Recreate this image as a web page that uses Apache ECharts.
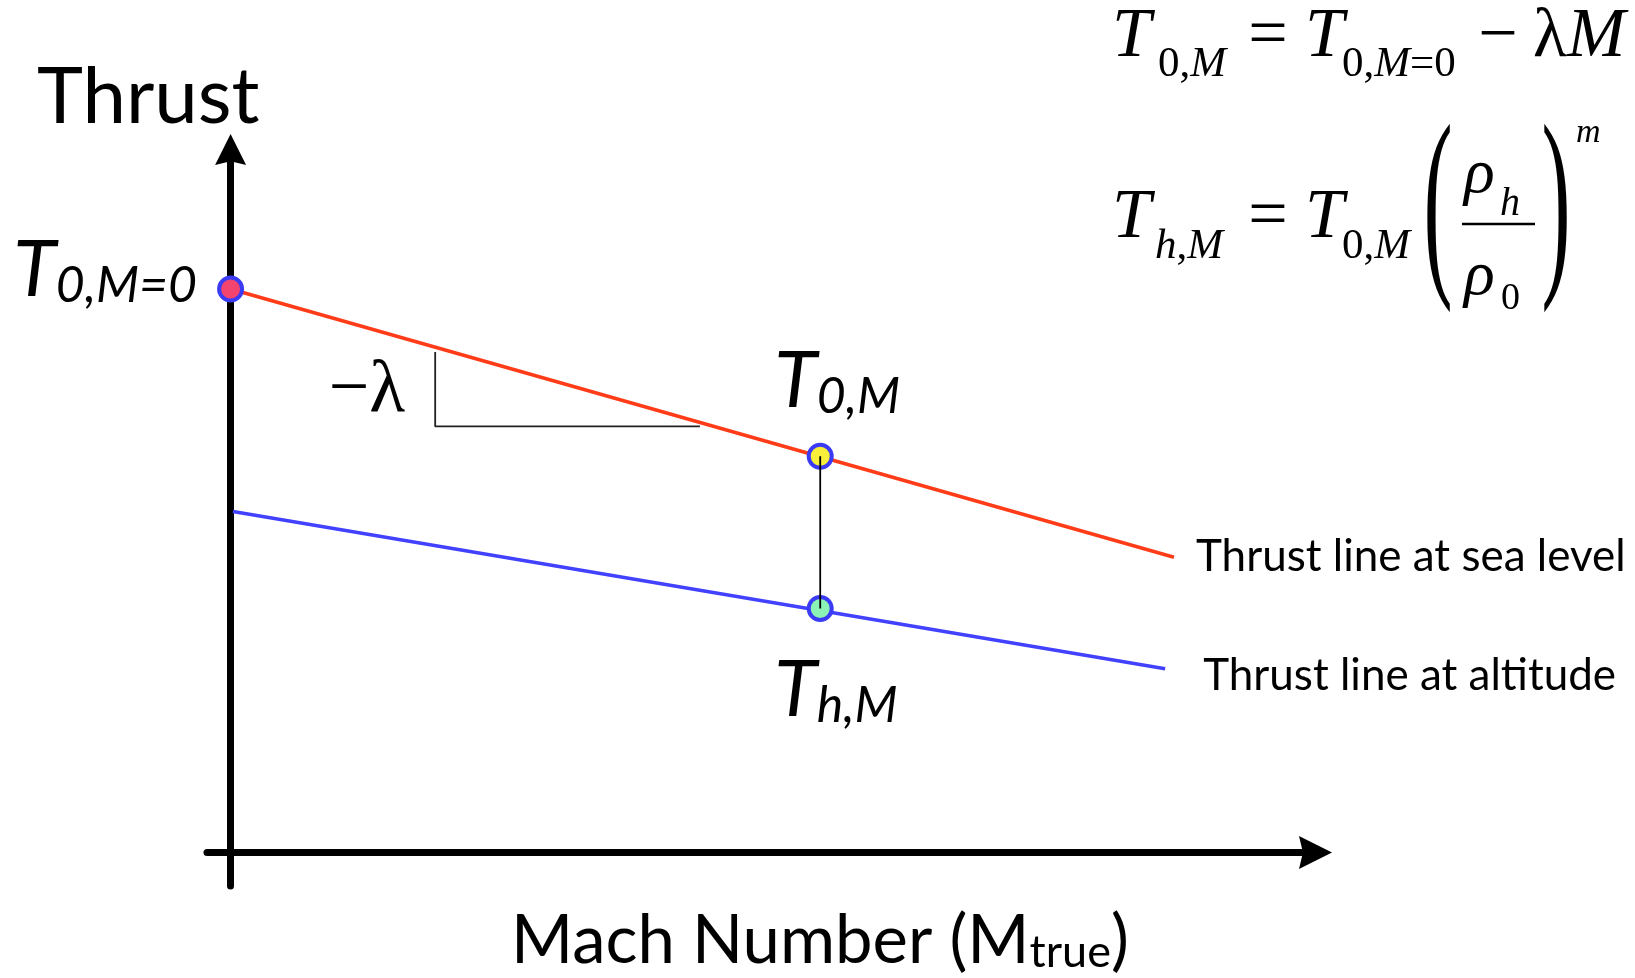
<!DOCTYPE html>
<html>
<head>
<meta charset="utf-8">
<title>Thrust vs Mach number</title>
<script src="https://cdn.jsdelivr.net/npm/echarts@6/dist/echarts.min.js"></script>
<style>
  html, body { margin: 0; padding: 0; background: #ffffff; }
  #chart { width: 1635px; height: 978px; }
</style>
</head>
<body>
<div id="chart"></div>
<script>
// Schematic thrust lapse with Mach number (arbitrary thrust units)
const seaLevelMach = [0, 1.6];
const seaLevelThrust = [100, 52.4];
const altitudeMach = [0.004, 1.585];
const altitudeThrust = [60.5, 32.6];
// slope indicator (rise / run) under the sea-level line
const slopeMach = [0.347, 0.347, 0.796];
const slopeThrust = [88.8, 75.6, 75.6];
// marked points: T0,M=0 ; T0,M ; Th,M
const pointMach = [0, 1, 1];
const pointThrust = [100, 70.3, 43.3];
const pointLabels = [['T', '0,M=0'], ['T', '0,M'], ['T', 'h,M']];
const lineLabels = ['Thrust line at sea level', 'Thrust line at altitude'];

const SANS = 'Lato, "Noto Sans", sans-serif';
const SERIF = '"Liberation Serif", "DejaVu Serif", serif';
const ARROW = 'path://M50,0L100,100L50,88L0,100Z';

const pair = (xs, ys) => xs.map((x, i) => [x, ys[i]]);

const symbolRich = {
  T: { fontFamily: SANS, fontStyle: 'italic', fontSize: 78, lineHeight: 80, color: '#000' },
  s: { fontFamily: SANS, fontStyle: 'italic', fontSize: 50, lineHeight: 50, verticalAlign: 'bottom', color: '#000' }
};
const symLabel = i => `{T|${pointLabels[i][0]}}{s|${pointLabels[i][1]}}`;

const pointFill = ['#f2446f', '#f8ef3a', '#8af3b5'];
const pointLabelCfg = [
  { position: 'left', distance: 20, offset: [0, -18] },
  { position: 'top', distance: 21, align: 'left', offset: [-46, 0] },
  { position: 'bottom', distance: 29, align: 'left', offset: [-46, 0] }
];

const scatterData = pair(pointMach, pointThrust).map((v, i) => ({
  value: v,
  itemStyle: { color: pointFill[i] },
  label: Object.assign({ show: true, formatter: symLabel(i), rich: symbolRich }, pointLabelCfg[i])
}));

// equation text helpers
const serifRich = size => ({
  u: { fontFamily: SERIF, fontSize: size, color: '#000' },
  i: { fontFamily: SERIF, fontStyle: 'italic', fontSize: size, color: '#000' }
});
function eqText(x, y, text, size, opt) {
  opt = opt || {};
  const el = {
    type: 'text', x: x, y: y, silent: true,
    style: {
      text: text, fontFamily: SERIF, fontSize: size,
      fontStyle: opt.italic ? 'italic' : 'normal',
      fill: '#000', align: opt.align || 'left', verticalAlign: 'middle',
      rich: serifRich(size)
    }
  };
  if (opt.scaleX) el.scaleX = opt.scaleX;
  return el;
}

const graphics = [
  // T_{0,M} = T_{0,M=0} − λM
  eqText(1112, 37.4, 'T', 70, { italic: true }),
  eqText(1158, 65, '{u|0,}{i|M}', 43),
  eqText(1268, 37.4, '=', 70, { align: 'center' }),
  eqText(1305, 37.4, 'T', 70, { italic: true }),
  eqText(1342, 65, '{u|0,}{i|M}{u|=0}', 43),
  eqText(1498, 37.4, '−', 70, { align: 'center' }),
  eqText(1533, 37.4, '{u|λ}{i|M}', 70),
  // T_{h,M} = T_{0,M} (ρh / ρ0)^m
  eqText(1112, 218.4, 'T', 70, { italic: true }),
  eqText(1155, 247, '{i|h}{u|,}{i|M}', 43),
  eqText(1268, 218.4, '=', 70, { align: 'center' }),
  eqText(1305, 218.4, 'T', 70, { italic: true }),
  eqText(1342, 247, '{u|0,}{i|M}', 43),
  eqText(1438, 213, '(', 208, { align: 'center', scaleX: 0.42 }),
  eqText(1556, 213, ')', 208, { align: 'center', scaleX: 0.42 }),
  eqText(1464, 175, 'ρ', 64, { italic: true }),
  eqText(1500, 204, 'h', 40, { italic: true }),
  {
    type: 'line', silent: true,
    shape: { x1: 1462, y1: 224, x2: 1535, y2: 224 },
    style: { stroke: '#000', lineWidth: 2.5 }
  },
  eqText(1464, 277, 'ρ', 64, { italic: true }),
  eqText(1501, 299, '0', 38),
  eqText(1576, 133.5, 'm', 34, { italic: true })
];

const option = {
  animation: false,
  backgroundColor: '#ffffff',
  title: [
    {
      text: 'Thrust', left: 37, top: 59, padding: 0,
      textStyle: { fontFamily: SANS, fontSize: 78, lineHeight: 78, fontWeight: 'normal', color: '#000' }
    },
    {
      text: '{a|Mach Number (M}{b|true}{a|)}', left: 511, top: 908, padding: 0,
      textStyle: {
        fontWeight: 'normal',
        rich: {
          a: { fontFamily: SANS, fontSize: 67, lineHeight: 67, fontWeight: 'normal', color: '#000' },
          b: { fontFamily: SANS, fontSize: 45, lineHeight: 31, fontWeight: 'normal', verticalAlign: 'bottom', color: '#000' }
        }
      }
    }
  ],
  grid: { left: 207, top: 149.5, width: 1108.5, height: 736.5, containLabel: false, outerBoundsMode: 'none' },
  xAxis: {
    type: 'value', min: -0.04, max: 1.84,
    axisLine: { show: true, onZero: true, symbol: ['none', ARROW], symbolSize: [33, 33],
      lineStyle: { color: '#000', width: 7 } },
    axisTick: { show: false }, axisLabel: { show: false }, splitLine: { show: false }
  },
  yAxis: {
    type: 'value', min: -5.95, max: 124.75,
    axisLine: { show: true, onZero: true, symbol: ['none', ARROW], symbolSize: [34, 31],
      lineStyle: { color: '#000', width: 7 } },
    axisTick: { show: false }, axisLabel: { show: false }, splitLine: { show: false }
  },
  series: [
    {
      name: 'sea level', type: 'line', data: pair(seaLevelMach, seaLevelThrust),
      symbol: 'none', silent: true, z: 3,
      lineStyle: { color: '#ff3c17', width: 3.5 },
      endLabel: { show: true, formatter: lineLabels[0], fontFamily: SANS, fontSize: 44,
        color: '#000', distance: 22, offset: [0, 0] }
    },
    {
      name: 'altitude', type: 'line', data: pair(altitudeMach, altitudeThrust),
      symbol: 'none', silent: true, z: 3,
      lineStyle: { color: '#4141ff', width: 3.5 },
      endLabel: { show: true, formatter: lineLabels[1], fontFamily: SANS, fontSize: 44,
        color: '#000', distance: 38, offset: [0, 7] }
    },
    {
      name: 'slope', type: 'line', data: pair(slopeMach, slopeThrust),
      symbol: 'none', silent: true, z: 3,
      lineStyle: { color: '#222', width: 1.8 },
      markPoint: {
        symbol: 'circle', symbolSize: 0, silent: true,
        data: [{ coord: [slopeMach[0], (slopeThrust[0] + slopeThrust[1]) / 2] }],
        label: {
          show: true, position: 'left', distance: 30, offset: [0, 2],
          formatter: '{m|−}{l|λ}',
          rich: {
            m: { fontFamily: SERIF, fontSize: 72, color: '#000' },
            l: { fontFamily: SERIF, fontSize: 74, color: '#000' }
          }
        }
      }
    },
    {
      name: 'points', type: 'scatter', data: scatterData,
      symbol: 'circle', symbolSize: 23, silent: true, z: 5,
      itemStyle: { borderColor: '#3b3bf5', borderWidth: 4, opacity: 1 }
    },
    {
      name: 'connector', type: 'line',
      data: pair(pointMach.slice(1), pointThrust.slice(1)),
      symbol: 'none', silent: true, z: 6,
      lineStyle: { color: '#000', width: 1.8 }
    }
  ],
  graphic: graphics
};

const chart = echarts.init(document.getElementById('chart'));
chart.setOption(option);
</script>
</body>
</html>
